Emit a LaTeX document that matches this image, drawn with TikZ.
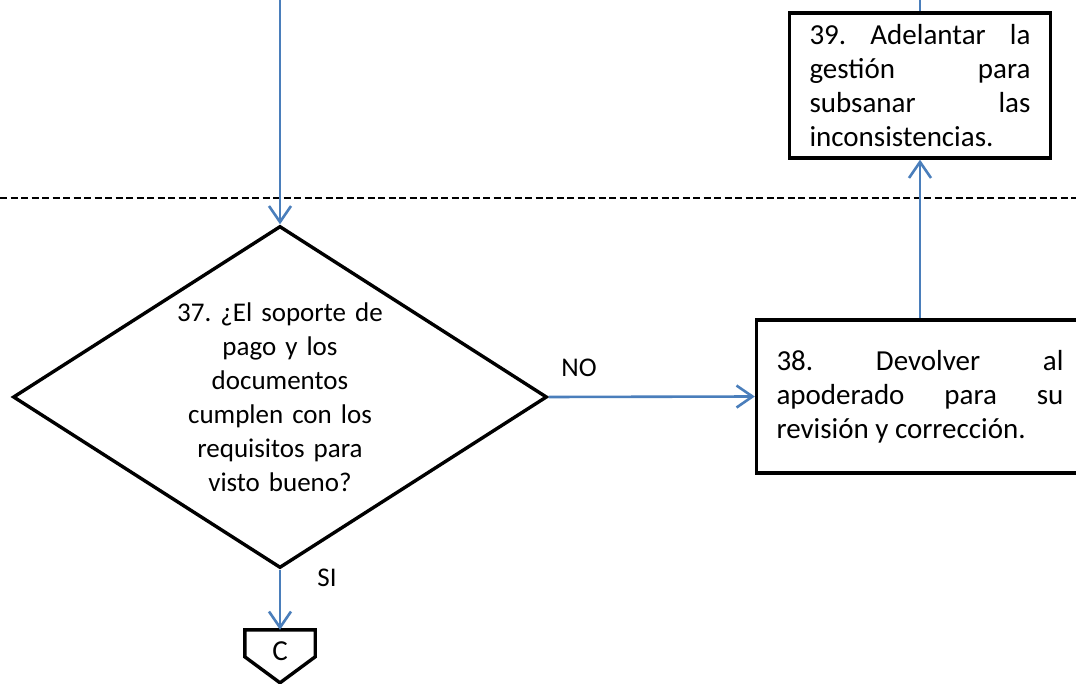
\documentclass[tikz,border=0pt]{standalone}
\usepackage{fontspec}
\setmainfont{Carlito}
\usetikzlibrary{arrows.meta,shapes.geometric}
\definecolor{flowblue}{RGB}{74,126,187}
\frenchspacing

\begin{document}
\begin{tikzpicture}[x=1pt,y=-1pt,
  every node/.style={font=\fontsize{27}{34}\selectfont},
  box/.style={draw,line width=3.4pt,inner xsep=20pt,inner ysep=0pt,font=\fontsize{29}{34}\selectfont},
  flow/.style={draw=flowblue,line width=2.6pt,-{Straight Barb[length=16pt,width=22pt]}},
  plain/.style={draw=flowblue,line width=2.6pt}]
  \useasboundingbox (0,0) rectangle (1076,684);
  \draw[line width=2.3pt,dash pattern=on 7pt off 3.5pt] (0,198) -- (1076,198);
  \node[draw,line width=3.4pt,diamond,aspect=1.56,inner sep=0pt,text width=215pt,align=center,minimum width=534pt,minimum height=342pt] (n37) at (280,397)
    {37. ¿El soporte de\\ pago y los\\ documentos\\ cumplen con los\\ requisitos para\\ visto bueno?};
  \node[box,text width=221pt,minimum height=145pt,align=justify] (n39) at (920,85.5)
    {39. Adelantar la\linebreak gestión para\linebreak subsanar las\linebreak inconsistencias.};
  \node[box,text width=287pt,minimum height=153pt,align=justify] (n38) at (920,396.5)
    {38. Devolver al\linebreak apoderado para su\linebreak revisión y corrección.};
  \node[minimum width=70pt,minimum height=42pt,inner sep=0pt,font=\fontsize{29}{34}\selectfont] (nC) at (280,651) {C};
  \draw[line width=3.4pt,line join=miter] (nC.north west) -- (nC.north east) -- ([yshift=-27pt]nC.north east)
    -- ([yshift=-53pt]nC.north) -- ([yshift=-27pt]nC.north west) -- cycle;
  \coordinate (in37) at (280,0);
  \coordinate (in39) at (920,0);
  \draw[plain] (in39) -- (n39.north);
  \draw[flow] (in37) -- (n37.north);
  \draw[flow] (n37.east) -- (n38.west);
  \draw[flow] (n38.north) -- (n39.south);
  \draw[flow] (n37.south) -- (nC.north);
  \node (lblNO) at (579,368) {NO};
  \node (lblSI) at (327,578) {SI};
\end{tikzpicture}
\end{document}
